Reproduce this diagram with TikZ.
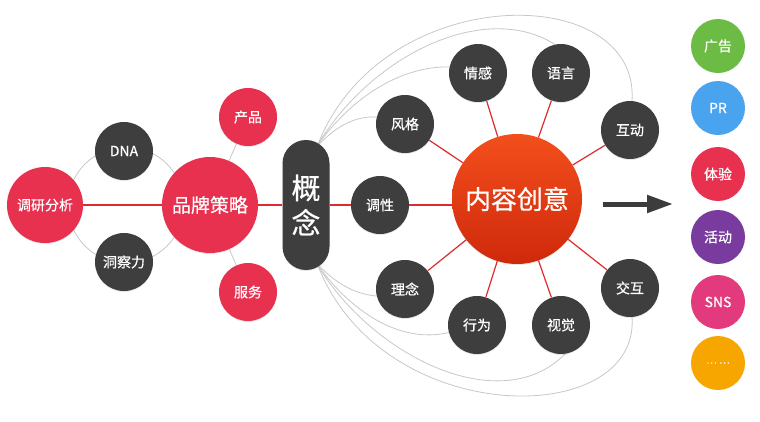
\documentclass[tikz,border=0pt]{standalone}
\usepackage{fontspec}
\setmainfont{Noto Sans CJK SC}[FakeBold=0.6]
\usetikzlibrary{arrows.meta,shadows}
\pgfdeclarelayer{bg}
\pgfsetlayers{bg,main}
\definecolor{dk}{HTML}{3E3E3E}
\definecolor{crim}{HTML}{E8304F}
\definecolor{lnred}{HTML}{DE2A2E}
\definecolor{lgray}{HTML}{C8C8C8}
\definecolor{arr}{HTML}{3C3C3C}
\definecolor{ctop}{HTML}{F34F1C}
\definecolor{cbot}{HTML}{CF290C}
\definecolor{cgreen}{HTML}{6CBB45}
\definecolor{cblue}{HTML}{4AA3EE}
\definecolor{cpurple}{HTML}{7A3B9E}
\definecolor{cpink}{HTML}{E23A7C}
\definecolor{corange}{HTML}{F7A600}
\tikzset{
  ball/.style={circle, inner sep=0pt, text=white, minimum size=58pt,
    font=\fontsize{14}{16}\selectfont,
    drop shadow={opacity=0.18, shadow xshift=0pt, shadow yshift=-1pt}},
  darkball/.style={ball, fill=dk},
  redball/.style={ball, fill=crim},
  sideball/.style={circle, inner sep=0pt, text=white, minimum size=54pt,
    font=\fontsize{14}{16}\selectfont},
  redlink/.style={draw=lnred, line width=1.2pt},
  graylink/.style={draw=lgray, line width=0.8pt},
}
\begin{document}
\begin{tikzpicture}[x=1pt, y=-1pt]
\begin{pgfonlayer}{bg}
\fill[white] (0,0) rectangle (760,421);
\end{pgfonlayer}
\useasboundingbox (0,0) rectangle (760,421);

% left group
\node[redball, minimum size=76pt] (dy) at (45,205) {调研分析};
\node[darkball] (dna) at (124,151) {DNA};
\node[darkball] (dcl) at (124,262) {洞察力};
\node[redball, minimum size=96pt, font=\fontsize{19}{22}\selectfont] (pp) at (210,205) {品牌策略};
\node[redball] (cp) at (248,117) {产品};
\node[redball] (fw) at (248,292) {服务};

% concept capsule
\node[fill=dk, rounded corners=23.5pt, minimum width=47pt, minimum height=130pt,
  inner sep=0pt, text=white, align=center, font=\fontsize{29}{35}\selectfont,
  drop shadow={opacity=0.18, shadow xshift=0pt, shadow yshift=-1pt}] (gn) at (306,205) {概\\念};

% content creativity
\node[circle, inner sep=0pt, minimum size=130pt, top color=ctop, bottom color=cbot,
  text=white, font=\fontsize{26}{30}\selectfont,
  drop shadow={opacity=0.18, shadow xshift=0pt, shadow yshift=-1pt}] (nr) at (517,199) {内容创意};

% satellites
\node[darkball] (tx) at (380,205) {调性};
\node[darkball] (fg) at (405,124) {风格};
\node[darkball] (qg) at (478,73) {情感};
\node[darkball] (yy) at (561,73) {语言};
\node[darkball] (hd) at (630,130) {互动};
\node[darkball] (ln) at (405,289) {理念};
\node[darkball] (xw) at (477,325) {行为};
\node[darkball] (sj) at (561,325) {视觉};
\node[darkball] (jh) at (630,288) {交互};

% arrow
\coordinate (as) at (603,204);
\coordinate (ae) at (673,204);
\draw[line width=5pt, draw=arr, -{Triangle[length=26pt,width=17pt]}] (as) -- (ae);

% right column
\node[sideball, fill=cgreen] (gg) at (718,46) {广告};
\node[sideball, fill=cblue] (pr) at (718,108) {PR};
\node[sideball, fill=crim] (ty) at (718,174) {体验};
\node[sideball, fill=cpurple] (hdd) at (718,237) {活动};
\node[sideball, fill=cpink] (sns) at (718,302) {SNS};
\node[sideball, fill=corange, font=\fontsize{10}{12}\selectfont] (more) at (718,363) {… …};

\begin{pgfonlayer}{bg}
  \draw[graylink] (126,205) circle (58pt);
  \draw[graylink] (pp) -- (cp);
  \draw[graylink] (pp) -- (fw);
  \draw[redlink] (dy) -- (pp) -- (gn) -- (tx) -- (tx -| nr);
  \foreach \n in {fg,qg,yy,hd,ln,xw,sj,jh} \draw[redlink] (nr) -- (\n);
  % top curves
  \draw[graylink] ([xshift=8pt,yshift=-10pt]gn.north) .. controls (335,126) and (355,116) .. (fg.166);
  \draw[graylink] ([xshift=9pt,yshift=-9pt]gn.north) .. controls (350,98) and (400,66) .. (qg.168);
  \draw[graylink] ([xshift=10pt,yshift=-8pt]gn.north) .. controls (370,55) and (485,0) .. (yy.102);
  \draw[graylink] ([xshift=11pt,yshift=-7pt]gn.north) .. controls (380,-20) and (640,-20) .. (hd.86);
  % bottom curves
  \draw[graylink] ([xshift=8pt,yshift=10pt]gn.south) .. controls (335,284) and (355,294) .. (ln.194);
  \draw[graylink] ([xshift=9pt,yshift=9pt]gn.south) .. controls (350,312) and (400,344) .. (xw.195);
  \draw[graylink] ([xshift=10pt,yshift=8pt]gn.south) .. controls (370,355) and (500,420) .. (sj.278);
  \draw[graylink] ([xshift=11pt,yshift=7pt]gn.south) .. controls (380,430) and (640,430) .. (jh.274);
\end{pgfonlayer}
\end{tikzpicture}
\end{document}
